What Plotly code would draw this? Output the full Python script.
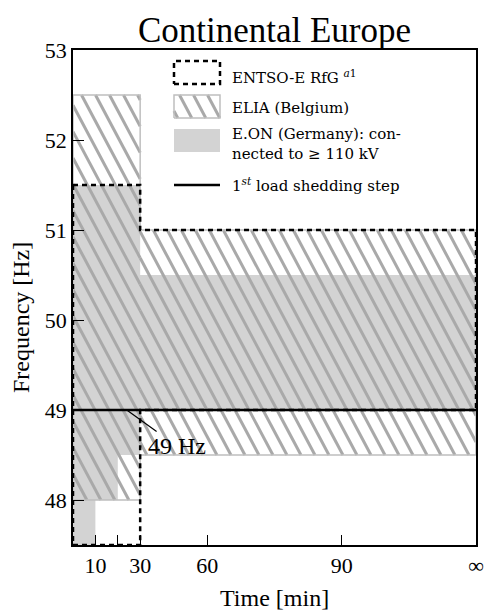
import math
import plotly.graph_objects as go

INF = float("inf")

# ---- data -------------------------------------------------------------
# x-axis ticks (time in minutes, INF = unlimited)
tick_times = [10, 30, 60, 90, INF]
tick_labels = ["10", "30", "60", "90", "∞"]
minor_tick_times = [20]
y_ticks = [48, 49, 50, 51, 52, 53]

# ENTSO-E RfG a1 frequency ranges
entso_t0 = [0, 30]
entso_t1 = [30, INF]
entso_lo = [47.5, 49.0]
entso_hi = [51.5, 51.0]

# ELIA (Belgium)
elia_t0 = [0, 30]
elia_t1 = [30, INF]
elia_lo = [48.0, 48.5]
elia_hi = [52.5, 51.0]

# E.ON (Germany), connected to >= 110 kV
eon_t0 = [0, 10, 20, 30]
eon_t1 = [10, 20, 30, INF]
eon_lo = [47.5, 48.0, 48.5, 49.0]
eon_hi = [51.5, 51.5, 51.5, 50.5]

# 1st load shedding step
load_shed_f = 49.0

# ---- layout geometry --------------------------------------------------
W, H = 485, 610
ML, MR, MT, MB = 73, 9, 50, 65
PW, PH = W - ML - MR, H - MT - MB
X_RANGE = [0.0, 180.0]
Y_RANGE = [47.5, 53.0]


def pos(t):
    """broken time axis: linear to 60 min, then 90 min, then infinity"""
    if t == INF:
        return 180.0
    if t <= 60:
        return float(t)
    return 60.0 + 2.0 * (t - 60)


def outline(t0, t1, lo, hi):
    xs, ys = [], []
    for a, b, h in zip(t0, t1, hi):
        xs += [pos(a), pos(b)]
        ys += [h, h]
    for a, b, l in reversed(list(zip(t0, t1, lo))):
        xs += [pos(b), pos(a)]
        ys += [l, l]
    xs.append(xs[0])
    ys.append(ys[0])
    return xs, ys


# hatch ("\\" at ~62 deg) computed in pixel space and clipped to rectangles
HATCH_SLOPE = 1.0 / math.tan(math.radians(62))
HATCH_STEP = 14.0


def hatch_segments(rects_px):
    """rects_px: list of (x0, x1, y0, y1) in pixels (y down). returns px segments"""
    segs = []
    cmin = -PH * HATCH_SLOPE - HATCH_STEP
    cmax = W + HATCH_STEP
    k = math.floor(cmin / HATCH_STEP)
    while k * HATCH_STEP <= cmax:
        c = k * HATCH_STEP + 3.0
        for x0, x1, y0, y1 in rects_px:
            ya = max(y0, (x0 - c) / HATCH_SLOPE)
            yb = min(y1, (x1 - c) / HATCH_SLOPE)
            if yb > ya:
                segs.append(((c + HATCH_SLOPE * ya, ya), (c + HATCH_SLOPE * yb, yb)))
        k += 1
    return segs


def dx_to_px(x):
    return ML + (x - X_RANGE[0]) / (X_RANGE[1] - X_RANGE[0]) * PW


def dy_to_px(y):
    return MT + (Y_RANGE[1] - y) / (Y_RANGE[1] - Y_RANGE[0]) * PH


def px_to_dx(px):
    return X_RANGE[0] + (px - ML) / PW * (X_RANGE[1] - X_RANGE[0])


def px_to_dy(py):
    return Y_RANGE[1] - (py - MT) / PH * (Y_RANGE[1] - Y_RANGE[0])


def px_to_fx(px):
    return (px - ML) / PW


def px_to_fy(py):
    return (MT + PH - py) / PH


FONT = "Liberation Serif"
LEG_FONT = "DejaVu Serif"
GRAY = "#d3d3d3"
HATCH = "#a9a9a9"
HATCH_EDGE = "#bfbfbf"

fig = go.Figure()

# E.ON grey area
ex, ey = outline(eon_t0, eon_t1, eon_lo, eon_hi)
fig.add_trace(go.Scatter(x=ex, y=ey, mode="lines", fill="toself",
                         fillcolor=GRAY, line=dict(width=0), hoverinfo="skip"))

# ELIA hatched area
elia_rects = [(dx_to_px(pos(a)), dx_to_px(pos(b)), dy_to_px(h), dy_to_px(l))
              for a, b, l, h in zip(elia_t0, elia_t1, elia_lo, elia_hi)]
hx, hy = [], []
for (xa, ya), (xb, yb) in hatch_segments(elia_rects):
    hx += [px_to_dx(xa), px_to_dx(xb), None]
    hy += [px_to_dy(ya), px_to_dy(yb), None]
fig.add_trace(go.Scatter(x=hx, y=hy, mode="lines",
                         line=dict(width=3, color=HATCH), hoverinfo="skip"))
lx, ly = outline(elia_t0, elia_t1, elia_lo, elia_hi)
fig.add_trace(go.Scatter(x=lx, y=ly, mode="lines",
                         line=dict(width=1.5, color=HATCH_EDGE), hoverinfo="skip"))

# ENTSO-E dashed outline
nx, ny = outline(entso_t0, entso_t1, entso_lo, entso_hi)
fig.add_trace(go.Scatter(x=nx, y=ny, mode="lines",
                         line=dict(width=2.5, color="black", dash="5px,4px"),
                         hoverinfo="skip"))

# load shedding line
fig.add_trace(go.Scatter(x=[pos(0), pos(INF)], y=[load_shed_f, load_shed_f],
                         mode="lines", line=dict(width=2.5, color="black"),
                         hoverinfo="skip"))

# ---- legend (drawn on an overlay axis in plot-fraction units) -----------
SX0, SX1 = 174, 220   # swatch px extents
sw_entso = (61, 84)
sw_elia = (95, 118)
sw_eon = (129, 152)
sw_line = 185


def rect_frac(y0, y1):
    fx0, fx1 = px_to_fx(SX0), px_to_fx(SX1)
    fy0, fy1 = px_to_fy(y1), px_to_fy(y0)
    return [fx0, fx1, fx1, fx0, fx0], [fy0, fy0, fy1, fy1, fy0]


def add_leg(**kw):
    fig.add_trace(go.Scatter(xaxis="x2", yaxis="y2", hoverinfo="skip", **kw))


rx, ry = rect_frac(*sw_entso)
add_leg(x=rx, y=ry, mode="lines", line=dict(width=2.5, color="black", dash="5px,4px"))

gx, gy = [], []
for (xa, ya), (xb, yb) in hatch_segments([(SX0, SX1, sw_elia[0], sw_elia[1])]):
    gx += [px_to_fx(xa), px_to_fx(xb), None]
    gy += [px_to_fy(ya), px_to_fy(yb), None]
add_leg(x=gx, y=gy, mode="lines", line=dict(width=3, color=HATCH))
rx, ry = rect_frac(*sw_elia)
add_leg(x=rx, y=ry, mode="lines", line=dict(width=1.5, color=HATCH_EDGE))

rx, ry = rect_frac(*sw_eon)
add_leg(x=rx, y=ry, mode="lines", fill="toself", fillcolor=GRAY, line=dict(width=0))

add_leg(x=[px_to_fx(SX0), px_to_fx(SX1)], y=[px_to_fy(sw_line)] * 2, mode="lines",
        line=dict(width=2.5, color="black"))

legend_texts = [
    (77, "ENTSO-E RfG <sup><i>a</i>1</sup>"),
    (108, "ELIA (Belgium)"),
    (133.5, "E.ON (Germany): con-"),
    (153.5, "nected to ≥ 110 kV"),
    (185, "1<sup><i>st</i></sup> load shedding step"),
]
for yy, txt in legend_texts:
    fig.add_annotation(xref="paper", yref="paper", x=px_to_fx(230), y=px_to_fy(yy),
                       text=txt, showarrow=False, xanchor="left", yanchor="middle",
                       align="left", font=dict(family=LEG_FONT, size=15, color="black"))

# 49 Hz callout
fig.add_annotation(x=pos(24), y=load_shed_f, xref="x", yref="y", text="49 Hz",
                   showarrow=True, arrowhead=0, arrowwidth=1.2, arrowcolor="black",
                   ax=50, ay=36, font=dict(family=FONT, size=24, color="black"))

# axis titles
fig.add_annotation(xref="paper", yref="paper", x=px_to_fx(21), y=px_to_fy(318),
                   text="Frequency [Hz]", textangle=-90, showarrow=False,
                   xanchor="center", yanchor="middle",
                   font=dict(family=FONT, size=24, color="black"))
fig.add_annotation(xref="paper", yref="paper", x=0.5, y=px_to_fy(598),
                   text="Time [min]", showarrow=False,
                   xanchor="center", yanchor="middle",
                   font=dict(family=FONT, size=24, color="black"))

axis_common = dict(showline=True, linecolor="black", linewidth=1.5, mirror=True,
                   showgrid=False, zeroline=False, ticks="inside",
                   tickcolor="black", tickwidth=1.2, automargin=False,
                   tickfont=dict(family=FONT, size=22, color="black"))

fig.update_layout(
    width=W, height=H,
    margin=dict(l=ML, r=MR, t=MT, b=MB),
    plot_bgcolor="white", paper_bgcolor="white",
    showlegend=False,
    font=dict(family=FONT, color="black"),
    title=dict(text="Continental Europe", x=0.5, xref="paper", xanchor="center",
               y=1 - 30 / H, yref="container", yanchor="middle",
               font=dict(family=FONT, size=35, color="black")),
    xaxis=dict(range=X_RANGE, tickvals=[pos(t) for t in tick_times],
               ticktext=tick_labels, ticklen=10,
               minor=dict(tickvals=[pos(t) for t in minor_tick_times],
                          ticks="inside", ticklen=10, tickcolor="black",
                          tickwidth=1.2, showgrid=False),
               **axis_common),
    yaxis=dict(range=Y_RANGE, tickvals=y_ticks, ticklen=11, **axis_common),
    xaxis2=dict(overlaying="x", range=[0, 1], visible=False),
    yaxis2=dict(overlaying="y", range=[0, 1], visible=False),
)

fig.write_html("out.html")
